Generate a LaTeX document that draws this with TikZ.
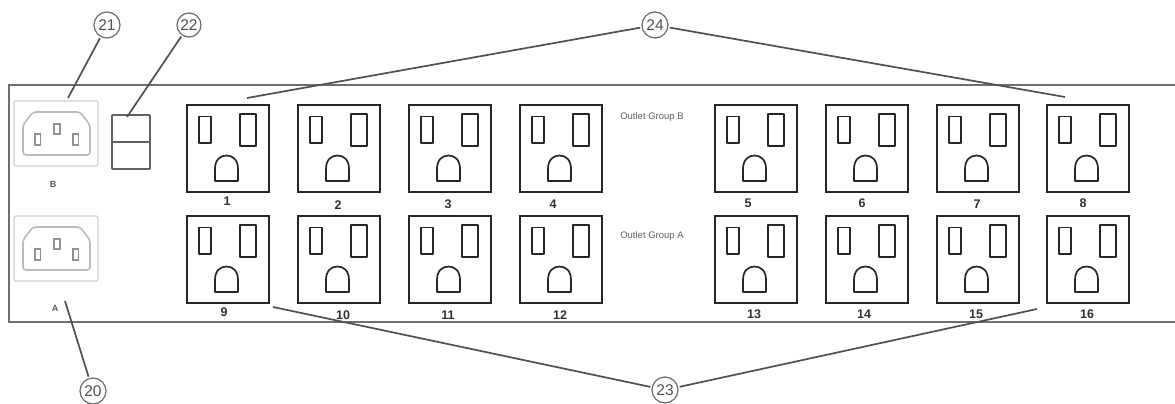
\documentclass[tikz,border=0pt]{standalone}
\usepackage{fontspec}
\setmainfont{Liberation Sans}
\definecolor{outl}{HTML}{262626}
\definecolor{inl}{HTML}{D0D0D0}
\definecolor{panel}{HTML}{6E6E6E}
\definecolor{lead}{HTML}{505050}
\definecolor{numc}{HTML}{303030}
\tikzset{
  outlet/.style={draw=outl,line width=2.2pt,minimum width=82pt,minimum height=87pt,inner sep=0,anchor=north west},
  slot/.style={draw=outl,line width=1.7pt,line join=round},
  inletbox/.style={draw=inl,line width=1.3pt,rounded corners=1.5pt},
  inletline/.style={draw=inl!90!black,line width=1.6pt,rounded corners=3pt},
  pin/.style={draw=inl!70!black,line width=1.3pt},
  callout/.style={circle,draw=lead!85,line width=1.2pt,minimum size=26pt,inner sep=0,outer sep=2pt,font=\fontsize{15.5}{15.5}\selectfont,text=lead},
  leadline/.style={draw=lead,line width=1.7pt},
  numlabel/.style={font=\bfseries\fontsize{12.5}{12.5}\selectfont,text=numc,inner sep=0},
  smalllabel/.style={font=\fontsize{9.5}{9.5}\selectfont,text=black!62,inner sep=0},
  sidelabel/.style={font=\bfseries\fontsize{9}{9}\selectfont,text=black!65,inner sep=0},
  panelline/.style={draw=panel,line width=2.1pt},
  switchbox/.style={draw=black!62,line width=1.6pt,rounded corners=.5pt}
}
\begin{document}
\begin{tikzpicture}[x=1pt,y=-1pt]
\useasboundingbox (0,0) rectangle (1175,404);
% panel
\draw[panelline] (1175,85) -- (9,85) -- (9,322) -- (1175,322);
% inlets
\foreach \nm/\dy in {b/0,a/115}{
  \begin{scope}[yshift=-\dy pt]
    \draw[inletbox] (14,101) rectangle (98,166);
    \draw[inletline] (23,125) -- (33,112) -- (80,112) -- (90,125) -- (90,155) -- (23,155) -- cycle;
    \draw[pin] (35,134) rectangle (40.5,145);
    \draw[pin] (54,124) rectangle (60,134);
    \draw[pin] (73,134) rectangle (78.5,145);
  \end{scope}
}
\node[sidelabel] (lb) at (53,184) {B};
\node[sidelabel] (la) at (55,308) {A};
% switch
\draw[switchbox] (112,115) rectangle (150,169);
\draw[switchbox] (112,142) -- (150,142);
% outlets
\foreach \n/\x/\y in {1/186/104,2/297/104,3/408/104,4/519/104,5/714/104,6/825/104,7/936/104,8/1046/104,
                      9/186/215,10/297/215,11/408/215,12/519/215,13/714/215,14/825/215,15/936/215,16/1046/215}{
  \node[outlet] (o\n) at (\x,\y) {};
  \begin{scope}[shift={(\x,\y)}]
    \draw[slot] (13,12.5) rectangle (25,39);
    \draw[slot] (54,10) rectangle (70,42);
    \draw[slot] (29,77) -- (29,65) .. controls (29,56) and (34,51.5) .. (40.5,51.5) .. controls (47,51.5) and (52,56) .. (52,65) -- (52,77) -- cycle;
  \end{scope}
}
% outlet numbers
\foreach \n/\x/\y in {1/227/201,2/338/205,3/448/204,4/553/204,5/748/203,6/862/203,7/977/204,8/1083/203,
                      9/224/312,10/343/315,11/448/315,12/560/315,13/754/314,14/864/314,15/976/314,16/1087/314}{
  \node[numlabel] (n\n) at (\x,\y) {\n};
}
\node[smalllabel] (gb) at (652,117) {Outlet Group B};
\node[smalllabel] (ga) at (652,236) {Outlet Group A};
% callouts
\node[callout] (c21) at (107,25) {21};
\node[callout,minimum size=24pt] (c22) at (189,25) {22};
\node[callout] (c24) at (655,25) {24};
\node[callout] (c23) at (665,390) {23};
\node[callout] (c20) at (93,391) {20};
\coordinate (e21) at (68,98);
\coordinate (e22) at (127,117);
\coordinate (e24l) at (247,98);
\coordinate (e24r) at (1065,97);
\coordinate (e23l) at (273,307);
\coordinate (e23r) at (1037,309);
\coordinate (e20) at (65,301);
\draw[leadline] (c21) -- (e21);
\draw[leadline] (c22) -- (e22);
\draw[leadline] (c24) -- (e24l);
\draw[leadline] (c24) -- (e24r);
\draw[leadline] (c23) -- (e23l);
\draw[leadline] (c23) -- (e23r);
\draw[leadline] (c20) -- (e20);
\end{tikzpicture}
\end{document}
